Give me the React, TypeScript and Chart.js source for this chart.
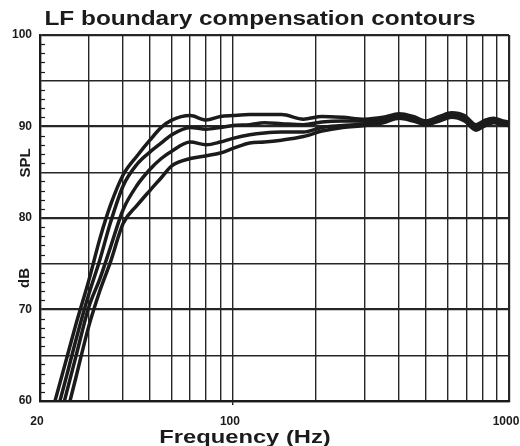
import React, { useEffect, useRef } from 'react';
import { Chart, registerables } from 'chart.js';

Chart.register(...registerables);

// ---- data ----
const FREQ_HZ = [21, 23, 25, 27, 30, 33, 36, 40, 45, 50, 55, 60, 70, 80, 90, 100, 115, 130, 150, 180, 210, 250, 300, 350, 400, 450, 500, 560, 620, 690, 760, 820, 880, 950, 1000];
const CURVE_1 = [56.4, 60.7, 64.7, 68.4, 73.1, 77.8, 81.4, 84.7, 86.8, 88.5, 89.9, 90.7, 91.2, 90.7, 91.1, 91.2, 91.3, 91.3, 91.3, 90.8, 91.1, 91.0, 90.8, 91.0, 91.4, 91.1, 90.6, 91.1, 91.5, 91.2, 90.2, 90.7, 90.9, 90.6, 90.5];
const CURVE_2 = [54.1, 58.7, 62.8, 66.7, 71.6, 75.5, 79.5, 83.5, 85.9, 87.2, 88.2, 89.1, 89.9, 89.7, 89.9, 90.1, 90.2, 90.4, 90.3, 90.2, 90.5, 90.6, 90.6, 90.8, 91.2, 90.9, 90.4, 90.9, 91.3, 91.0, 90.0, 90.5, 90.7, 90.4, 90.3];
const CURVE_3 = [52.1, 56.7, 61.0, 64.9, 70.2, 73.4, 76.8, 80.9, 83.6, 85.3, 86.5, 87.3, 88.3, 88.0, 88.3, 88.7, 89.1, 89.3, 89.4, 89.4, 89.9, 90.1, 90.3, 90.6, 91.0, 90.7, 90.3, 90.7, 91.1, 90.8, 89.8, 90.3, 90.6, 90.3, 90.2];
const CURVE_4 = [49.5, 54.3, 58.6, 62.6, 68.1, 72.1, 75.2, 79.4, 81.4, 83.0, 84.4, 85.7, 86.5, 86.8, 87.1, 87.6, 88.2, 88.3, 88.5, 88.9, 89.5, 89.9, 90.1, 90.4, 90.9, 90.6, 90.2, 90.6, 91.0, 90.6, 89.6, 90.1, 90.4, 90.2, 90.1];

const X_GRID_HZ = [20, 30, 40, 50, 60, 70, 80, 90, 100, 200, 300, 400, 500, 600, 700, 800, 900, 1000];
const X_LABELS_HZ = [20, 100, 1000];
const Y_LABELS_DB = [60, 70, 80, 90, 100];

const CHART_TITLE = 'LF boundary compensation contours';
const X_TITLE = 'Frequency (Hz)';
const Y_TITLE_TOP = 'SPL';
const Y_TITLE_BOTTOM = 'dB';

const INK = '#1b1b1b';
const GRID = '#262626';
const FONT = '"Liberation Sans", Arial, Helvetica, sans-serif';

function drawStretched(ctx: CanvasRenderingContext2D, text: string, cx: number, baseline: number, font: string, sx: number) {
  ctx.save();
  ctx.font = font;
  ctx.fillStyle = INK;
  ctx.textAlign = 'center';
  ctx.textBaseline = 'alphabetic';
  ctx.translate(cx, baseline);
  ctx.scale(sx, 1);
  ctx.fillText(text, 0, 0);
  ctx.restore();
}

function drawRotated(ctx: CanvasRenderingContext2D, text: string, cx: number, cy: number, font: string) {
  ctx.save();
  ctx.font = font;
  ctx.fillStyle = INK;
  ctx.textAlign = 'center';
  ctx.textBaseline = 'middle';
  ctx.translate(cx, cy);
  ctx.rotate(-Math.PI / 2);
  ctx.fillText(text, 0, 0);
  ctx.restore();
}

export default function App() {
  const ref = useRef<HTMLCanvasElement>(null);

  useEffect(() => {
    const canvas = ref.current;
    if (!canvas) return;
    const curves = [CURVE_1, CURVE_2, CURVE_3, CURVE_4];

    const decorPlugin = {
      id: 'decor',
      afterDraw(chart: any) {
        const { ctx, chartArea } = chart;
        const y = chart.scales.y;
        ctx.save();
        ctx.strokeStyle = INK;
        ctx.lineWidth = 1.2;
        for (let v = 61; v < 100; v++) {
          if (v % 5 === 0) continue;
          const py = Math.round(y.getPixelForValue(v)) + 0.5;
          ctx.beginPath();
          ctx.moveTo(chartArea.left, py);
          ctx.lineTo(chartArea.left + 5, py);
          ctx.stroke();
        }
        ctx.restore();
        drawStretched(ctx, CHART_TITLE, 260, 25, 'bold 20px ' + FONT, 1.22);
        drawStretched(ctx, X_TITLE, 245, 443, 'bold 19px ' + FONT, 1.25);
        drawRotated(ctx, Y_TITLE_TOP, 26, 163, 'bold 15px ' + FONT);
        drawRotated(ctx, Y_TITLE_BOTTOM, 25, 278, 'bold 15px ' + FONT);
      },
    };

    const chart = new Chart(canvas, {
      type: 'line',
      data: {
        datasets: curves.map((c, i) => ({
          label: 'Contour ' + (i + 1),
          data: FREQ_HZ.map((f, j) => ({ x: f, y: c[j] })),
          borderColor: INK,
          borderWidth: 3.5,
          pointRadius: 0,
          fill: false,
          cubicInterpolationMode: 'monotone' as const,
        })),
      },
      options: {
        animation: false,
        responsive: false,
        maintainAspectRatio: false,
        layout: { padding: { top: 35, right: 11, left: 0, bottom: 0 } },
        plugins: {
          legend: { display: false },
          title: { display: false },
          tooltip: { enabled: false },
        },
        scales: {
          x: {
            type: 'logarithmic',
            min: 20,
            max: 1000,
            afterBuildTicks: (s: any) => {
              s.ticks = X_GRID_HZ.map((v) => ({ value: v }));
            },
            afterFit: (s: any) => {
              s.height = 45;
              s.paddingLeft = 0;
              s.paddingRight = 0;
            },
            ticks: {
              autoSkip: false,
              maxRotation: 0,
              padding: 9,
              labelOffset: -3,
              color: INK,
              font: { family: FONT, size: 12, weight: 'bold' },
              callback: (v: any) => (X_LABELS_HZ.includes(Number(v)) ? String(v) : ''),
            },
            grid: {
              color: GRID,
              lineWidth: (c: any) => (c.tick && (c.tick.value === 20 || c.tick.value === 1000) ? 2.2 : 1.4),
              drawTicks: true,
              tickLength: 4,
              tickColor: (c: any) => (c.tick && c.tick.value === 100 ? INK : 'rgba(0,0,0,0)'),
            },
            border: { display: true, color: INK, width: 2.2 },
          },
          y: {
            type: 'linear',
            min: 60,
            max: 100,
            afterFit: (s: any) => {
              s.width = 40;
            },
            ticks: {
              stepSize: 5,
              padding: 8,
              color: INK,
              font: { family: FONT, size: 12, weight: 'bold' },
              callback: (v: any) => (Y_LABELS_DB.includes(Number(v)) ? String(v) : ''),
            },
            grid: {
              color: GRID,
              lineWidth: (c: any) => (c.tick && c.tick.value % 10 === 0 ? 2.2 : 1.4),
              drawTicks: false,
            },
            border: { display: true, color: INK, width: 2.2 },
          },
        },
      },
      plugins: [decorPlugin],
    } as any);

    return () => chart.destroy();
  }, []);

  return (
    <div style={{ position: 'absolute', left: 0, top: 0, width: 520, height: 446, background: '#fff' }}>
      <canvas ref={ref} width={520} height={446} style={{ display: 'block', width: 520, height: 446 }} />
    </div>
  );
}
